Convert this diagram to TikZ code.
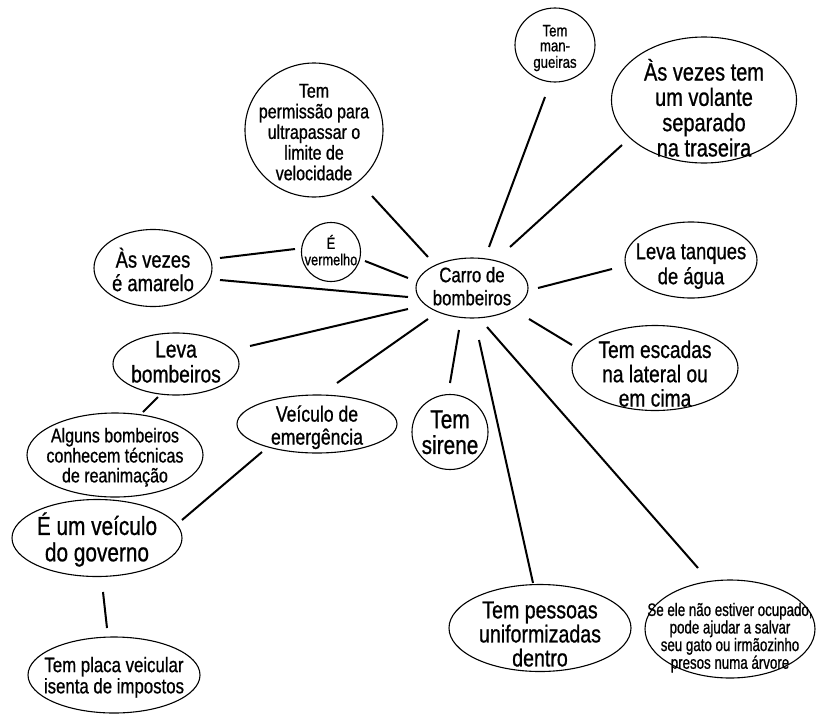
\documentclass[tikz,border=0pt]{standalone}
\usepackage{fontspec}
\setmainfont{Liberation Sans}[FakeStretch=0.8,FakeBold=0.8]
\newfontfamily\narrowfont{Liberation Sans}[FakeStretch=0.74,FakeBold=0.8]
\usetikzlibrary{shapes.geometric,calc}

% centred multi-line label (size, leading, downward drop, lines)
% that does not inflate the bubble around it
\newcommand\bubtext[4]{\fontsize{#1}{#2}\selectfont\smash{\makebox[0pt]{\raisebox{\dimexpr-0.3em-#3pt\relax}{\begin{tabular}{@{}c@{}}#4\end{tabular}}}}}

\begin{document}
\begin{tikzpicture}[x=1pt,y=-1pt,
  bub/.style 2 args={ellipse, draw, line width=1.1pt, inner sep=0pt, outer sep=0pt,
                     minimum width=#1, minimum height=#2},
  link/.style={line width=2pt}]

\useasboundingbox[fill=white] (0,0) rectangle (816,715);

% central idea
\node[bub={112}{60}] (carro) at (472,288) {\bubtext{21}{23}{0}{Carro de\\bombeiros}};

% surrounding ideas
\node[bub={80}{74}]   (mang)    at (555,45)  {\bubtext{16.5}{15}{3}{Tem\\man-\\gueiras}};
\node[bub={185}{126}] (volante) at (704,100) {\bubtext{25}{24}{10}{Às vezes tem\\um volante\\separado\\na traseira}};
\node[bub={138}{134}] (perm)    at (314,130) {\bubtext{20}{20.5}{4}{Tem\\permissão para\\ultrapassar o\\limite de\\velocidade}};
\node[bub={59}{59}]   (verm)    at (331,252) {\bubtext{16}{16}{0}{É\\vermelho}};
\node[bub={118}{77}]  (amarelo) at (153,268) {\bubtext{23}{22}{4}{Às vezes\\é amarelo}};
\node[bub={132}{76}]  (tanques) at (691,260) {\bubtext{23}{25}{6}{Leva tanques\\de água}};
\node[bub={166}{85}]  (escadas) at (655,368) {\bubtext{24}{23}{8}{Tem escadas\\na lateral ou\\em cima}};
\node[bub={126}{62}]  (levab)   at (176,364) {\bubtext{24}{25}{0}{Leva\\bombeiros}};
\node[bub={160}{58}]  (emerg)   at (317,424) {\bubtext{22}{23}{3}{Veículo de\\emergência}};
\node[bub={76}{75}]   (sirene)  at (450,432) {\bubtext{26}{23}{2}{Tem\\sirene}};
\node[bub={176}{84}]  (alguns)  at (115,455) {\bubtext{20}{18}{2}{Alguns bombeiros\\conhecem técnicas\\de reanimação}};
\node[bub={170}{77}]  (governo) at (97,538)  {\bubtext{26}{25}{1}{É um veículo\\do governo}};
\node[bub={172}{76}]  (placa)   at (114,675) {\bubtext{21}{20}{2}{Tem placa veicular\\isenta de impostos}};
\node[bub={182}{87}]  (pessoas) at (540,628) {\bubtext{24.5}{21}{8}{Tem pessoas\\uniformizadas\\dentro}};
\node[bub={170}{98}]  (seele)   at (730,629) {\narrowfont\bubtext{18}{15}{8}{Se ele não estiver ocupado,\\pode ajudar a salvar\\seu gato ou irmãozinho\\presos numa árvore}};

% connectors (they stop short of the bubbles)
\draw[link] ($(carro)+(-44,-31)$) -- ($(perm)+(58,66)$);
\draw[link] ($(carro)+(17,-41)$)  -- ($(mang)+(-10,52)$);
\draw[link] ($(carro)+(38,-41)$)  -- ($(volante)+(-82,45)$);
\draw[link] ($(carro)+(-64,-10)$) -- ($(verm)+(34,9)$);
\draw[link] ($(verm)+(-36,-3)$)   -- ($(amarelo)+(67,-10)$);
\draw[link] ($(carro)+(-64,9)$)   -- ($(amarelo)+(67,12)$);
\draw[link] ($(carro)+(66,0)$)    -- ($(tanques)+(-79,9)$);
\draw[link] ($(carro)+(57,31)$)   -- ($(escadas)+(-83,-23)$);
\draw[link] ($(carro)+(15,39)$)   -- ($(seele)+(-32,-61)$);
\draw[link] ($(carro)+(7,52)$)    -- ($(pessoas)+(-7,-45)$);
\draw[link] ($(carro)+(-13,42)$)  -- ($(sirene)+(0,-49)$);
\draw[link] ($(carro)+(-44,31)$)  -- ($(emerg)+(20,-41)$);
\draw[link] ($(carro)+(-64,21)$)  -- ($(levab)+(74,-18)$);
\draw[link] ($(levab)+(-18,33)$)  -- ($(alguns)+(28,-43)$);
\draw[link] ($(emerg)+(-55,28)$)  -- ($(governo)+(85,-18)$);
\draw[link] ($(governo)+(6,54)$)  -- ($(placa)+(-7,-47)$);

\end{tikzpicture}
\end{document}
